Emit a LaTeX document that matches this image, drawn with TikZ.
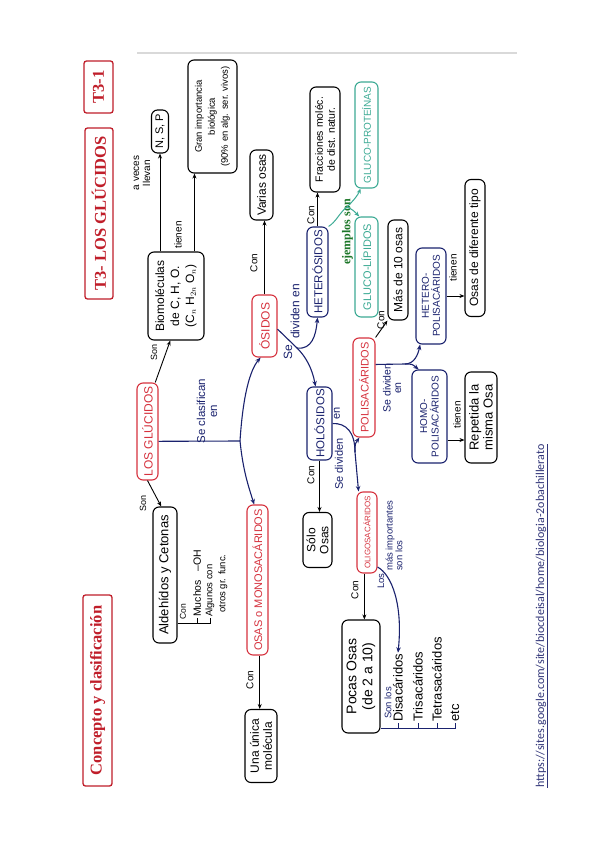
\documentclass[tikz,border=0pt]{standalone}
\usepackage{fontspec}
\setmainfont{Liberation Sans}
\newfontfamily\serifb{Liberation Serif}
\newfontfamily\urlfont{Carlito}
\usetikzlibrary{arrows.meta,calc}
\definecolor{hred}{RGB}{214,50,62}
\definecolor{hblue}{RGB}{26,34,110}
\definecolor{hteal}{RGB}{60,170,148}
\definecolor{tred}{RGB}{192,30,42}
\definecolor{hgreen}{RGB}{28,118,40}
\definecolor{urlc}{RGB}{48,52,120}
\newcommand\hfs[2]{\fontsize{#1}{#2}\selectfont}
\begin{document}
\begin{tikzpicture}[x=1pt,y=-1pt,
 every node/.style={rotate=90,inner sep=1pt},
 bx/.style={draw,rounded corners=6pt,line width=1.1pt,align=center,inner sep=1pt},
 kbox/.style={bx,draw=black,text=black},
 rbox/.style={bx,draw=hred,text=hred},
 bbox/.style={bx,draw=hblue,text=hblue},
 gbox/.style={bx,draw=hteal,text=hteal},
 tbox/.style={draw=tred,text=tred,line width=1.3pt,rounded corners=2.5pt,font=\serifb\bfseries\hfs{16.5}{18}},
 lbl/.style={align=center,text=black,font=\hfs{10}{11}},
 blbl/.style={align=center,text=hblue,font=\hfs{11}{12}},
 arr/.style={-{Stealth[length=5pt,width=4pt]},line width=0.9pt,draw=black},
 bline/.style={line width=1.1pt,draw=hblue},
 barr/.style={bline,-{Stealth[length=5.5pt,width=4.5pt]}},
 gline/.style={line width=1pt,draw=hteal},
 garr/.style={gline,-{Stealth[length=5pt,width=4pt]}},
]
\fill[white] (0,0) rectangle (599,848);
\useasboundingbox (0,0) rectangle (599,848);
\draw[gray!30,line width=1.5pt] (137,53) -- (517,53);

% titles
\node[tbox,minimum width=52,minimum height=29] (t31) at (98.5,87) {T3-1};
\node[tbox,minimum width=171,minimum height=28] (t3) at (99,213.5) {T3- LOS GLÚCIDOS};
\node[tbox,minimum width=191,minimum height=29] (tc) at (97.5,690.5) {Concepto y clasificación};

% boxes
\node[rbox,minimum width=97,minimum height=21,font=\hfs{12}{13}] (glu) at (147.5,431.5) {LOS GLÚCIDOS};
\node[kbox,minimum width=88,minimum height=56,font=\hfs{12}{15}] (bio) at (176,296) {Biomoléculas\\de C, H, O.\\(C$_n$ H$_{2n}$ O$_n$)};
\node[kbox,minimum width=43,minimum height=17,font=\hfs{11}{12}] (nsp) at (160,131.5) {N, S, P};
\node[kbox,minimum width=113,minimum height=49,font=\hfs{9.5}{13}] (gran) at (212.5,116.5) {Gran importancia\\biológica\\(90\% en alg. ser. vivos)};
\node[rbox,minimum width=62,minimum height=25,font=\hfs{12}{13}] (osidos) at (264.5,326) {ÓSIDOS};
\node[kbox,minimum width=70,minimum height=23,font=\hfs{12}{13}] (varias) at (261.5,185) {Varias osas};
\node[kbox,minimum width=136,minimum height=24,font=\hfs{13}{14}] (aldeh) at (165,575) {Aldehídos y Cetonas};
\node[rbox,minimum width=150,minimum height=21,font=\hfs{11}{12}] (osas) at (257.5,580) {OSAS o MONOSACÁRIDOS};
\node[kbox,minimum width=73,minimum height=32,font=\hfs{12}{13}] (unica) at (261,746) {Una única\\molécula};
\node[bbox,minimum width=90,minimum height=21,font=\hfs{11.5}{12}] (heter) at (317.5,272) {HETERÓSIDOS};
\node[bbox,minimum width=73,minimum height=25,font=\hfs{11.5}{12}] (holo) at (319.5,423.5) {HOLÓSIDOS};
\node[kbox,minimum width=105,minimum height=30,font=\hfs{10.5}{12}] (frac) at (325,139.5) {Fracciones moléc.\\de dist. natur.};
\node[gbox,minimum width=106,minimum height=23,font=\hfs{10}{11}] (gprot) at (366.5,135) {GLUCO-PROTEÍNAS};
\node[gbox,minimum width=100,minimum height=23,font=\hfs{11}{12}] (glip) at (366.5,267) {GLUCO-LÍPIDOS};
\node[kbox,minimum width=100,minimum height=20,font=\hfs{12}{13}] (mas10) at (398,270) {Más de 10 osas};
\node[bbox,minimum width=96,minimum height=30,font=\hfs{10}{11}] (hpoli) at (431,296) {HETERO-\\POLISACÁRIDOS};
\node[bbox,minimum width=93,minimum height=35,font=\hfs{10}{11.5}] (mpoli) at (429.5,416.5) {HOMO-\\POLISACÁRIDOS};
\node[kbox,minimum width=137,minimum height=20,font=\hfs{12}{13}] (osasdif) at (475,248) {Osas de diferente tipo};
\node[kbox,minimum width=91,minimum height=32,font=\hfs{13}{14}] (repet) at (481,417.5) {Repetida la\\misma Osa};
\node[kbox,minimum width=55,minimum height=29,font=\hfs{12}{13}] (solo) at (317.5,540) {Sólo\\Osas};
\node[rbox,minimum width=99,minimum height=22,font=\hfs{11}{12}] (poli) at (364,387.5) {POLISACÁRIDOS};
\node[rbox,minimum width=81,minimum height=20,font=\hfs{8}{9}] (oligo) at (367,532.5) {OLIGOSACÁRIDOS};
\node[kbox,minimum width=113,minimum height=38,font=\hfs{14}{16}] (pocas) at (361,676.5) {Pocas Osas\\(de 2 a 10)};

% labels
\node[lbl,font=\hfs{9}{10}] (lson1) at (154,352) {Son};
\node[lbl] (lveces) at (142,173) {a veces\\llevan};
\node[lbl] (lt1) at (178,235) {tienen};
\node[lbl] (lc1) at (254,263) {Con};
\node[blbl,font=\hfs{11.5}{12}] (lclas) at (207,411) {Se clasifican\\en};
\node[lbl,font=\hfs{9}{10}] (lson2) at (143,503) {Son};
\node[lbl] (lc2) at (250,680) {Con};
\node[blbl,font=\hfs{12}{13},anchor=west] (ldiv1a) at (288,361) {Se};
\node[blbl,font=\hfs{12}{13},anchor=west] (ldiv1b) at (295,340) {dividen en};
\node[lbl] (lc3) at (311,215) {Con};
\node[text=hgreen,font=\serifb\bfseries\hfs{12}{13}] (lej) at (347.5,232) {ejemplos son};
\node[lbl] (lc4) at (311,475) {Con};
\node[blbl,anchor=west] (ldiv2a) at (339,491) {Se dividen};
\node[blbl,anchor=west] (ldiv2b) at (337,421) {en};
\node[lbl] (lc5) at (381,320) {Con};
\node[blbl,font=\hfs{10.5}{10.5}] (ldiv3) at (392,388) {Se dividen\\en};
\node[lbl] (lt2) at (453,268) {tienen};
\node[lbl] (lt3) at (457,415) {tienen};
\node[lbl] (lc6) at (355,590) {Con};
\node[blbl,font=\hfs{9.5}{8.5},align=left,anchor=west] (llos) at (390,590) {Los\\\phantom{Los }más importantes\\\phantom{Los }son los};
\node[blbl,font=\hfs{9.5}{10}] (lsonlos) at (388,703) {Son los};

% Aldehidos list
\node[lbl,font=\hfs{8.5}{9},anchor=west] (lc7) at (183,621) {Con};
\node[lbl,font=\hfs{10.5}{12},anchor=west] (muchos) at (197,618) {Muchos \ \ –OH};
\node[lbl,font=\hfs{9.5}{11},anchor=west] (alg1) at (210,618) {Algunos con};
\node[lbl,font=\hfs{9.5}{11},anchor=west] (alg2) at (223,614) {otros gr. func.};
\coordinate (al0) at ($(aldeh.south west)!0.15!(aldeh.south east)$);
\draw[line width=0.8pt] (al0) -- (al0 -| alg1.west) -- (alg1.west);
\draw[line width=0.8pt] (muchos.west) -- (muchos.west |- al0);

% Pocas list
\node[lbl,font=\hfs{13}{14},anchor=west] (disa) at (398,723) {Disacáridos};
\node[lbl,font=\hfs{13}{14},anchor=west] (tri) at (418,723) {Trisacáridos};
\node[lbl,font=\hfs{13}{14},anchor=west] (tetra) at (437,723) {Tetrasacáridos};
\node[lbl,font=\hfs{13}{14},anchor=west] (etc) at (455,723) {etc};
\coordinate (pl) at ($(pocas.south west)!0.044!(pocas.south east)$);
\draw[bline,line width=0.9pt] (pl) -- (pl -| etc.west) -- (etc.west);
\draw[bline,line width=0.9pt] (disa.west) -- (disa.west |- pl);
\draw[bline,line width=0.9pt] (tri.west) -- (tri.west |- pl);
\draw[bline,line width=0.9pt] (tetra.west) -- (tetra.west |- pl);

% URL
\node[font=\urlfont\hfs{12}{13},text=urlc] (url) at (542,616) {\underline{https://sites.google.com/site/biocdeisal/home/biologia-2obachillerato}};

% connectors black
\draw[arr] ($(glu.south east)!0.15!(glu.north east)$) -- ($(bio.west)!0.2!(bio.north west)$);
\draw[arr] (bio.east -| nsp.west) -- (nsp.west);
\coordinate (gx) at ($(gran.north west)!0.14!(gran.south west)$);
\draw[arr] (bio.east -| gx) -- (gx);
\draw[arr] (osidos.east) -- (osidos.east |- varias.west);
\draw[arr] (glu.west) -- ($(aldeh.east)!0.3!(aldeh.north east)$);
\coordinate (os0) at ($(osas.west)!0.2!(osas.south west)$);
\draw[arr] (os0) -- (os0 |- unica.east);
\draw[arr] (heter.east) -- (heter.east |- frac.west);
\draw[arr] (holo.west) -- (holo.west |- solo.east);
\draw[arr] (poli.south east) -- (mas10.north west);
\draw[arr] (hpoli.south) -- (hpoli.south -| osasdif.north);
\coordinate (mp) at ($(mpoli.south)!0.5!(mpoli.south west)$);
\draw[arr] (mp) -- (mp -| repet.north);
\coordinate (ol) at ($(oligo.west)!0.25!(oligo.north west)$);
\draw[arr] (ol) -- (ol |- pocas.east);

% blue connectors
\coordinate (sc) at (240,441);
\draw[bline] ($(glu.south)!0.2!(glu.south west)$) -- (sc);
\draw[barr] (sc) .. controls (243,395) and (250,370) .. ($(osidos.west)!0.3!(osidos.north west)$);
\draw[barr] (sc) .. controls (243,470) and (248,485) .. ($(osas.east)!0.3!(osas.north east)$);

\coordinate (sd) at (297,348);
\draw[bline] ($(osidos.south)!0.1!(osidos.south west)$) -- (sd);
\draw[barr] (sd) .. controls (312,350) and (316,335) .. (heter.west);
\draw[barr] (sd) .. controls (306,357) and (312,368) .. ($(holo.east)!0.3!(holo.north east)$);

\coordinate (hd) at (355,452);
\draw[bline] (holo.south) .. controls (346,423) and (355,432) .. (hd);
\draw[barr] (hd) -- ($(oligo.east)!0.8!(oligo.north east)$);
\draw[barr] (hd) .. controls (355,444) .. ($(poli.north west)!0.3!(poli.south west)$);

\coordinate (pd) at (405,364);
\draw[bline] ($(poli.south east)!0.27!(poli.south west)$) -- (pd);
\draw[barr] (pd) .. controls (414,364) and (418,355) .. ($(hpoli.west)!0.7!(hpoli.north west)$);
\draw[barr] (pd) .. controls (412,364) .. ($(mpoli.east)!0.6!(mpoli.north east)$);

\draw[barr] ($(oligo.south west)!0.08!(oligo.south east)$) .. controls (392,575) and (403,605) .. (disa.east);

% green connectors
\coordinate (ej) at (347,207);
\draw[gline] (heter.south east) .. controls (336,222) and (340,212) .. (ej);
\draw[garr] (ej) .. controls (354,200) and (358,195) .. ($(gprot.west)!0.5!(gprot.north west)$);
\draw[garr] (ej) .. controls (353,210) .. ($(glip.east)!0.6!(glip.north east)$);
\end{tikzpicture}
\end{document}
